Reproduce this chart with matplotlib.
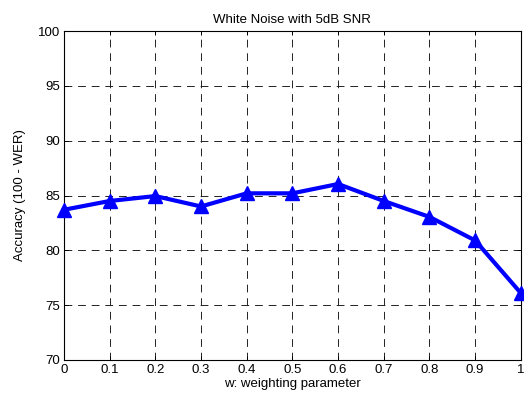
import matplotlib
matplotlib.use('Agg')
from matplotlib import pyplot as plt

plt.rcParams['font.family'] = ['Liberation Sans', 'DejaVu Sans']

w = [0, 0.1, 0.2, 0.3, 0.4, 0.5, 0.6, 0.7, 0.8, 0.9, 1.0]
accuracy = [83.7, 84.5, 84.95, 84.0, 85.2, 85.2, 86.05, 84.5, 83.05, 80.9, 76.1]
xticks = [0, 0.1, 0.2, 0.3, 0.4, 0.5, 0.6, 0.7, 0.8, 0.9, 1]
xticklabels = ['0', '0.1', '0.2', '0.3', '0.4', '0.5', '0.6', '0.7', '0.8', '0.9', '1']
yticks = [70, 75, 80, 85, 90, 95, 100]

fig = plt.figure(figsize=(5.24, 3.93), dpi=100)
ax = fig.add_axes([0.122, 0.084, 0.872, 0.837])

ax.plot(w, accuracy, color='#0000ff', lw=3, marker='^', markersize=10,
        clip_on=False, zorder=3)

ax.set_xlim(0, 1)
ax.set_ylim(70, 100)
ax.set_xticks(xticks)
ax.set_xticklabels(xticklabels)
ax.set_yticks(yticks)
ax.grid(True, color='#222222', linestyle=(0, (8, 6)), lw=0.7)
ax.tick_params(direction='in', top=True, right=True, labelsize=9.5,
               length=3, width=0.7, pad=3)
for s in ax.spines.values():
    s.set_linewidth(0.8)

ax.set_title('White Noise with 5dB SNR', fontsize=9.5, pad=6)
ax.set_xlabel('w: weighting parameter', fontsize=9.5, labelpad=1)
ax.set_ylabel('Accuracy (100 - WER)', fontsize=9.5, labelpad=8)

fig.savefig('out.png', dpi=100)
